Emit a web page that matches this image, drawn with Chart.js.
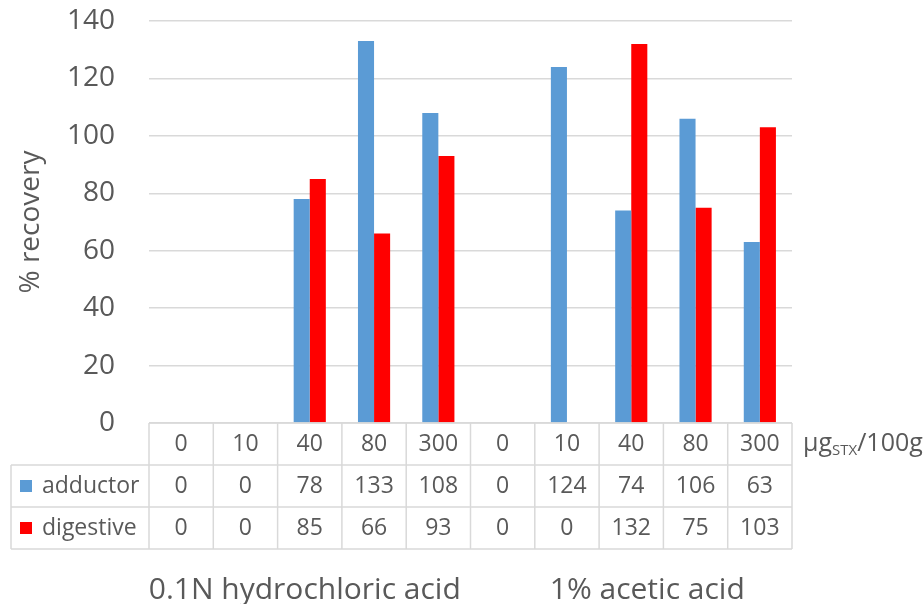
<!DOCTYPE html>
<html>
<head>
<meta charset="utf-8">
<script src="https://cdn.jsdelivr.net/npm/chart.js@4/dist/chart.umd.min.js"></script>
<style>
  html, body { margin: 0; padding: 0; background: #ffffff; }
  #wrap { width: 923px; height: 604px; position: relative; }
</style>
</head>
<body>
<div id="wrap"><canvas id="chart" width="923" height="604"></canvas></div>
<script>
// Doses of saxitoxin spiked (µg STX / 100 g), two extraction solvents
const doses = ['0', '10', '40', '80', '300', '0', '10', '40', '80', '300'];
const groups = ['0.1N hydrochloric acid', '1% acetic acid'];
const groupSpan = 5;

// % recovery per tissue
const adductor = [0, 0, 78, 133, 108, 0, 124, 74, 106, 63];
const digestive = [0, 0, 85, 66, 93, 0, 0, 132, 75, 103];

const seriesNames = ['adductor', 'digestive'];
const seriesColors = ['#5b9bd5', '#ff0000'];

const yTicks = [0, 20, 40, 60, 80, 100, 120, 140];

const FONT = "'Open Sans', 'Liberation Sans', sans-serif";
const TEXT = '#595959';
const LINE = '#d9d9d9';

// Data table under the plot, aligned with the category scale
const tablePlugin = {
  id: 'dataTable',
  afterDraw(chart) {
    const { ctx, chartArea, scales: { x } } = chart;
    const n = doses.length;
    const cw = x.getPixelForValue(1) - x.getPixelForValue(0);
    const left = x.getPixelForValue(0) - cw / 2;
    const right = left + cw * n;
    const top = chartArea.bottom;
    const rowH = 42;
    const legendLeft = 11;
    const rows = [adductor, digestive];

    ctx.save();
    ctx.strokeStyle = LINE;
    ctx.lineWidth = 1.5;

    // horizontal lines
    const hline = (y, x0, x1) => {
      ctx.beginPath(); ctx.moveTo(x0, y); ctx.lineTo(x1, y); ctx.stroke();
    };
    hline(top, left, right);
    hline(top + rowH, legendLeft, right);
    hline(top + rowH * 2, legendLeft, right);
    hline(top + rowH * 3, legendLeft, right);

    // vertical lines
    for (let i = 0; i <= n; i++) {
      const xx = left + cw * i;
      ctx.beginPath(); ctx.moveTo(xx, top); ctx.lineTo(xx, top + rowH * 3); ctx.stroke();
    }
    ctx.beginPath(); ctx.moveTo(legendLeft, top + rowH); ctx.lineTo(legendLeft, top + rowH * 3); ctx.stroke();

    ctx.fillStyle = TEXT;
    ctx.textAlign = 'center';
    ctx.textBaseline = 'middle';
    ctx.font = '23px ' + FONT;

    // header: doses
    doses.forEach((d, i) => {
      ctx.fillText(d, x.getPixelForValue(i), top + rowH / 2);
    });

    // series rows
    rows.forEach((vals, r) => {
      const cy = top + rowH * (r + 1) + rowH / 2;
      vals.forEach((v, i) => {
        ctx.fillStyle = TEXT;
        ctx.fillText(String(v), x.getPixelForValue(i), cy);
      });
      // legend key
      ctx.fillStyle = seriesColors[r];
      ctx.fillRect(20, cy - 6, 12, 12);
      ctx.fillStyle = TEXT;
      ctx.textAlign = 'left';
      ctx.fillText(seriesNames[r], 42, cy);
      ctx.textAlign = 'center';
    });

    // unit label
    let ux = right + 11;
    const uy = top + rowH / 2;
    ctx.textAlign = 'left';
    ctx.font = '25px ' + FONT;
    ctx.fillText('\u03bcg', ux, uy);
    ux += ctx.measureText('\u03bcg').width;
    ctx.font = '15px ' + FONT;
    ctx.fillText('STX', ux, uy + 7);
    ux += ctx.measureText('STX').width;
    ctx.font = '25px ' + FONT;
    ctx.fillText('/100g', ux, uy);

    // solvent group labels
    ctx.textAlign = 'center';
    ctx.font = '30px ' + FONT;
    groups.forEach((g, k) => {
      const gx = left + cw * (k * groupSpan + groupSpan / 2);
      ctx.fillText(g, gx + (k === 1 ? 16 : -5), top + rowH * 3 + 41);
    });
    ctx.restore();
  }
};

new Chart(document.getElementById('chart'), {
  type: 'bar',
  data: {
    labels: doses,
    datasets: [
      { label: seriesNames[0], data: adductor, backgroundColor: seriesColors[0] },
      { label: seriesNames[1], data: digestive, backgroundColor: seriesColors[1] }
    ]
  },
  options: {
    responsive: false,
    animation: false,
    devicePixelRatio: 1,
    categoryPercentage: 0.5,
    barPercentage: 1.0,
    layout: { padding: { left: 14, right: 131, top: 21, bottom: 181 } },
    plugins: {
      legend: { display: false },
      tooltip: { enabled: false }
    },
    scales: {
      x: {
        display: false,
        grid: { display: false }
      },
      y: {
        min: 0,
        max: 140,
        afterBuildTicks(scale) { scale.ticks = yTicks.map(v => ({ value: v })); },
        afterFit(scale) {
          scale.width = 135;
          scale.paddingTop = 0;
          scale.paddingBottom = 0;
        },
        border: { display: false },
        grid: { color: LINE, lineWidth: 1.5, drawTicks: false },
        ticks: {
          color: TEXT,
          padding: 34,
          font: { family: FONT, size: 28 }
        },
        title: {
          display: true,
          text: '% recovery',
          color: TEXT,
          padding: { top: 0, bottom: 0 },
          font: { family: FONT, size: 28 }
        }
      }
    }
  },
  plugins: [tablePlugin]
});
</script>
</body>
</html>
